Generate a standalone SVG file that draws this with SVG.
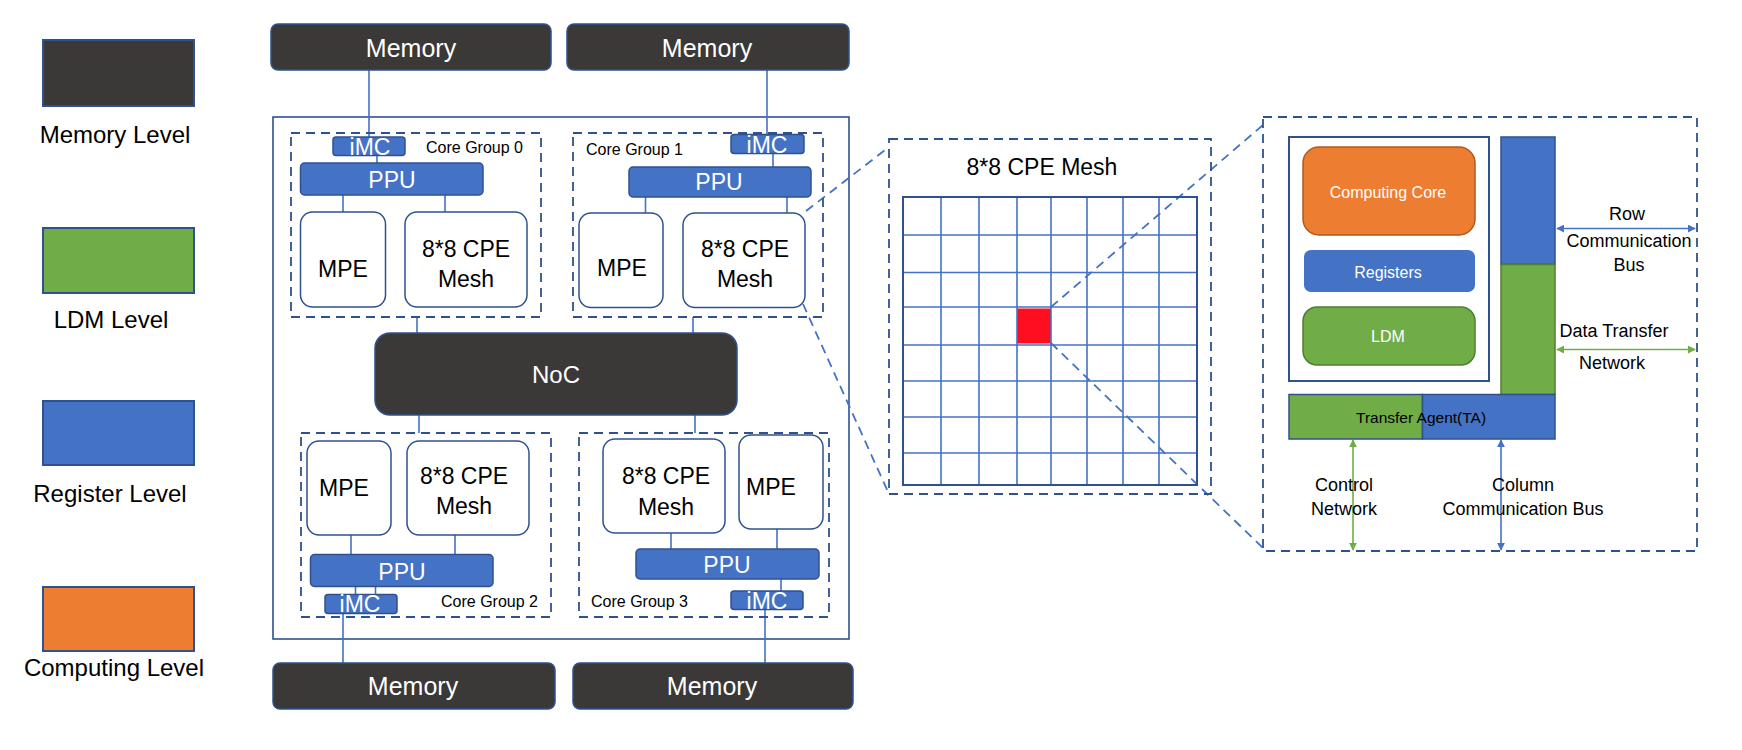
<svg xmlns="http://www.w3.org/2000/svg" width="1742" height="750" viewBox="0 0 1742 750">
<style>
text{font-family:"Liberation Sans",Arial,sans-serif;}
.mem{fill:#3B3838;stroke:#2F528F;stroke-width:1.5;}
.wt{fill:#fff;}
.bk{fill:#000;}
.blue{fill:#4472C4;stroke:#2F528F;stroke-width:1.5;}
.box{fill:#fff;stroke:#2F528F;stroke-width:1.5;}
.dash{fill:none;stroke:#2F528F;stroke-width:1.8;stroke-dasharray:9,6;}
.zl{fill:none;stroke:#4472C4;stroke-width:1.8;stroke-dasharray:9,6;}
.ln{stroke:#4472C4;stroke-width:1.6;fill:none;}
.grid{stroke:#4472C4;stroke-width:1.6;}
.mid{text-anchor:middle;}
</style>
<defs>
<marker id="ab" viewBox="0 0 10 10" refX="9" refY="5" markerWidth="5" markerHeight="5" orient="auto-start-reverse"><path d="M0,0 L10,5 L0,10 z" fill="#4472C4"/></marker>
<marker id="ag" viewBox="0 0 10 10" refX="9" refY="5" markerWidth="5" markerHeight="5" orient="auto-start-reverse"><path d="M0,0 L10,5 L0,10 z" fill="#70AD47"/></marker>
</defs>
<rect width="1742" height="750" fill="#fff"/>

<g id="legend">
<rect x="43" y="40" width="151" height="66" fill="#3B3838" stroke="#2F528F" stroke-width="2"/>
<text x="115" y="143" font-size="24" class="mid bk">Memory Level</text>
<rect x="43" y="228" width="151" height="65" fill="#70AD47" stroke="#2F528F" stroke-width="2"/>
<text x="111" y="328" font-size="24" class="mid bk">LDM Level</text>
<rect x="43" y="401" width="151" height="64" fill="#4472C4" stroke="#2F528F" stroke-width="2"/>
<text x="110" y="502" font-size="24" class="mid bk">Register Level</text>
<rect x="43" y="587" width="151" height="64" fill="#ED7D31" stroke="#2F528F" stroke-width="2"/>
<text x="114" y="676" font-size="24" class="mid bk">Computing Level</text>
</g>

<g id="chip"><rect x="273" y="117" width="576" height="522" fill="none" stroke="#2F528F" stroke-width="1.6"/></g>

<g id="connectors">
<line class="ln" x1="369" y1="70" x2="369" y2="155"/>
<line class="ln" x1="377" y1="155" x2="377" y2="163"/>
<line class="ln" x1="343" y1="195" x2="343" y2="212"/>
<line class="ln" x1="445" y1="195" x2="445" y2="212"/>
<line class="ln" x1="767" y1="70" x2="767" y2="153"/>
<line class="ln" x1="773" y1="153" x2="773" y2="167"/>
<line class="ln" x1="645.5" y1="197" x2="645.5" y2="213"/>
<line class="ln" x1="787" y1="197" x2="787" y2="213"/>
<line class="ln" x1="417" y1="317" x2="417" y2="333"/>
<line class="ln" x1="693" y1="317" x2="693" y2="333"/>
<line class="ln" x1="419" y1="415" x2="419" y2="433"/>
<line class="ln" x1="695" y1="415" x2="695" y2="433"/>
<line class="ln" x1="351" y1="535" x2="351" y2="554"/>
<line class="ln" x1="455" y1="535" x2="455" y2="554"/>
<line class="ln" x1="355.5" y1="587" x2="355.5" y2="594"/>
<line class="ln" x1="375.5" y1="587" x2="375.5" y2="594"/>
<line class="ln" x1="343" y1="613" x2="343" y2="663"/>
<line class="ln" x1="671" y1="533" x2="671" y2="549"/>
<line class="ln" x1="777" y1="529" x2="777" y2="549"/>
<line class="ln" x1="781" y1="579" x2="781" y2="591"/>
<line class="ln" x1="765" y1="609" x2="765" y2="663"/>
<line class="zl" x1="806" y1="211" x2="889" y2="147"/>
<line class="zl" x1="803" y1="304" x2="889" y2="494"/>
<line class="zl" x1="1051" y1="307" x2="1263" y2="125"/>
<line class="zl" x1="1051" y1="343" x2="1263" y2="548"/>
<line stroke="#4472C4" stroke-width="1.6" x1="1557" y1="228.5" x2="1695" y2="228.5" marker-start="url(#ab)" marker-end="url(#ab)"/>
<line stroke="#70AD47" stroke-width="1.6" x1="1557" y1="349.5" x2="1695" y2="349.5" marker-start="url(#ag)" marker-end="url(#ag)"/>
<line stroke="#70AD47" stroke-width="1.6" x1="1353" y1="440" x2="1353" y2="550" marker-start="url(#ag)" marker-end="url(#ag)"/>
<line stroke="#4472C4" stroke-width="1.6" x1="1501" y1="440" x2="1501" y2="550" marker-start="url(#ab)" marker-end="url(#ab)"/>
</g>

<g id="mem-tl"><rect class="mem" x="271" y="24" width="280" height="46" rx="7"/><text x="411" y="57" font-size="25" class="mid wt">Memory</text></g>
<g id="mem-tr"><rect class="mem" x="567" y="24" width="282" height="46" rx="7"/><text x="707" y="57" font-size="25" class="mid wt">Memory</text></g>
<g id="mem-bl"><rect class="mem" x="273" y="663" width="282" height="46" rx="7"/><text x="413" y="695" font-size="25" class="mid wt">Memory</text></g>
<g id="mem-br"><rect class="mem" x="573" y="663" width="280" height="46" rx="7"/><text x="712" y="695" font-size="25" class="mid wt">Memory</text></g>

<g id="cg0">
<rect class="dash" x="291" y="133" width="250" height="184"/>
<text x="426" y="153" font-size="16" class="bk">Core Group 0</text>
<rect class="blue" x="333" y="137" width="72" height="18.5" rx="3"/>
<text x="370" y="155" font-size="23" class="mid wt">iMC</text>
<rect class="blue" x="300.5" y="163" width="182.5" height="32" rx="4"/>
<text x="392" y="188" font-size="23" class="mid wt">PPU</text>
<rect class="box" x="300.5" y="212" width="85" height="95" rx="12"/>
<text x="343" y="277" font-size="23" class="mid bk">MPE</text>
<rect class="box" x="405" y="212" width="122" height="95" rx="12"/>
<text x="466" y="257" font-size="23" class="mid bk">8*8 CPE</text>
<text x="466" y="287" font-size="23" class="mid bk">Mesh</text>
</g>

<g id="cg1">
<rect class="dash" x="573" y="133" width="250" height="184"/>
<text x="586" y="155" font-size="16" class="bk">Core Group 1</text>
<rect class="blue" x="731" y="134.5" width="73" height="19" rx="3"/>
<text x="767" y="153" font-size="23" class="mid wt">iMC</text>
<rect class="blue" x="629" y="167" width="182" height="30" rx="4"/>
<text x="719" y="190" font-size="23" class="mid wt">PPU</text>
<rect class="box" x="579" y="213" width="84" height="94.5" rx="12"/>
<text x="622" y="276" font-size="23" class="mid bk">MPE</text>
<rect class="box" x="683" y="213" width="122" height="94.5" rx="12"/>
<text x="745" y="257" font-size="23" class="mid bk">8*8 CPE</text>
<text x="745" y="287" font-size="23" class="mid bk">Mesh</text>
</g>

<g id="noc"><rect class="mem" x="375" y="333" width="362" height="82" rx="15"/><text x="556" y="383" font-size="24" class="mid wt">NoC</text></g>

<g id="cg2">
<rect class="dash" x="301" y="433" width="250" height="184"/>
<text x="441" y="607" font-size="16" class="bk">Core Group 2</text>
<rect class="box" x="307" y="441" width="84" height="94" rx="12"/>
<text x="344" y="496" font-size="23" class="mid bk">MPE</text>
<rect class="box" x="407" y="441" width="122" height="94" rx="12"/>
<text x="464" y="484" font-size="23" class="mid bk">8*8 CPE</text>
<text x="464" y="514" font-size="23" class="mid bk">Mesh</text>
<rect class="blue" x="310.5" y="554.5" width="182.5" height="32" rx="4"/>
<text x="402" y="580" font-size="23" class="mid wt">PPU</text>
<rect class="blue" x="325" y="594.5" width="72" height="19" rx="3"/>
<text x="360" y="612" font-size="23" class="mid wt">iMC</text>
</g>

<g id="cg3">
<rect class="dash" x="579" y="433" width="250" height="184"/>
<text x="591" y="607" font-size="16" class="bk">Core Group 3</text>
<rect class="box" x="603" y="439" width="122" height="94" rx="12"/>
<text x="666" y="484" font-size="23" class="mid bk">8*8 CPE</text>
<text x="666" y="515" font-size="23" class="mid bk">Mesh</text>
<rect class="box" x="739" y="435" width="84" height="94" rx="12"/>
<text x="771" y="495" font-size="23" class="mid bk">MPE</text>
<rect class="blue" x="636" y="549" width="183" height="30" rx="4"/>
<text x="727" y="573" font-size="23" class="mid wt">PPU</text>
<rect class="blue" x="731" y="591" width="72" height="18.5" rx="3"/>
<text x="767" y="609" font-size="23" class="mid wt">iMC</text>
</g>

<g id="cpe-mesh">
<rect class="dash" x="889" y="139" width="322" height="355"/>
<text x="1042" y="175" font-size="23" class="mid bk">8*8 CPE Mesh</text>
<rect x="1017" y="308.5" width="34" height="35" fill="#FE0E1E"/>
<g class="grid">
<line x1="941" y1="197" x2="941" y2="485"/>
<line x1="979" y1="197" x2="979" y2="485"/>
<line x1="1017" y1="197" x2="1017" y2="485"/>
<line x1="1051" y1="197" x2="1051" y2="485"/>
<line x1="1087" y1="197" x2="1087" y2="485"/>
<line x1="1123" y1="197" x2="1123" y2="485"/>
<line x1="1159" y1="197" x2="1159" y2="485"/>
<line x1="903" y1="235" x2="1197" y2="235"/>
<line x1="903" y1="272.5" x2="1197" y2="272.5"/>
<line x1="903" y1="307" x2="1197" y2="307"/>
<line x1="903" y1="345" x2="1197" y2="345"/>
<line x1="903" y1="381" x2="1197" y2="381"/>
<line x1="903" y1="417" x2="1197" y2="417"/>
<line x1="903" y1="453" x2="1197" y2="453"/>
</g>
<rect x="903" y="197" width="294" height="288" fill="none" stroke="#2F528F" stroke-width="2"/>
</g>

<g id="cpe-detail">
<rect class="dash" x="1263" y="117" width="434" height="434"/>
<rect x="1289" y="137" width="200" height="244" fill="#fff" stroke="#2F528F" stroke-width="2"/>
<g id="computing-core"><rect x="1303" y="147" width="172" height="88" rx="16" fill="#ED7D31" stroke="#AE5A21" stroke-width="1.5"/><text x="1388" y="198" font-size="16" class="mid wt">Computing Core</text></g>
<g id="registers"><rect x="1304" y="250" width="171" height="42" rx="7" fill="#4472C4"/><text x="1388" y="278" font-size="16" class="mid wt">Registers</text></g>
<g id="ldm"><rect x="1303" y="307" width="172" height="58" rx="14" fill="#70AD47" stroke="#507E32" stroke-width="1.5"/><text x="1388" y="342" font-size="16" class="mid wt">LDM</text></g>
<g id="bars">
<rect x="1501" y="137" width="54" height="127.5" fill="#4472C4" stroke="#2F528F" stroke-width="1.5"/>
<rect x="1501" y="264.5" width="54" height="130" fill="#70AD47" stroke="#507E32" stroke-width="1.5"/>
<rect x="1289" y="394.5" width="133.5" height="44.5" fill="#70AD47" stroke="#2F528F" stroke-width="1.5"/>
<rect x="1422.5" y="394.5" width="132.5" height="44.5" fill="#4472C4" stroke="#2F528F" stroke-width="1.5"/>
<text x="1356" y="423" font-size="15.5" class="bk">Transfer Agent(TA)</text>
</g>
<g id="labels" font-size="18">
<text x="1627" y="220" class="mid bk">Row</text>
<text x="1629" y="247" class="mid bk">Communication</text>
<text x="1629" y="271" class="mid bk">Bus</text>
<text x="1614" y="337" class="mid bk">Data Transfer</text>
<text x="1612" y="369" class="mid bk">Network</text>
<text x="1344" y="491" class="mid bk">Control</text>
<text x="1344" y="515" class="mid bk">Network</text>
<text x="1523" y="491" class="mid bk">Column</text>
<text x="1523" y="515" class="mid bk">Communication Bus</text>
</g>
</g>
</svg>
